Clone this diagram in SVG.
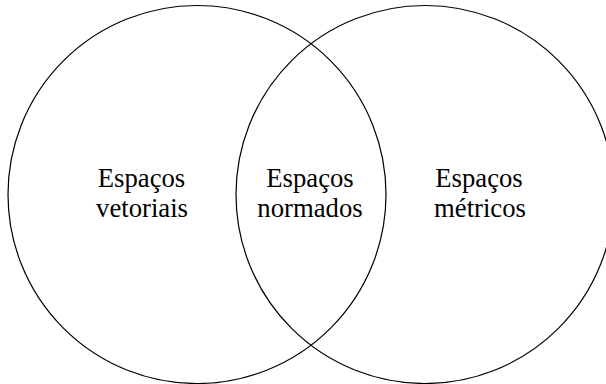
<svg xmlns="http://www.w3.org/2000/svg" width="606" height="384" viewBox="0 0 606 384">
<style>
.c{fill:none;stroke:#000;stroke-width:1.2}
</style>
<rect width="606" height="384" fill="#fff"/>
<g id="connectors"></g>
<g font-family="Liberation Serif, DejaVu Serif, serif" font-size="26.7" text-anchor="middle" fill="#000">
<g id="vetoriais">
<circle class="c" cx="197" cy="194.5" r="189"/>
<text x="141.5" y="187">Espaços</text>
<text x="142" y="217">vetoriais</text>
</g>
<g id="metricos">
<circle class="c" cx="425" cy="194.5" r="189"/>
<text x="479" y="187">Espaços</text>
<text x="480" y="217">métricos</text>
</g>
<g id="normados">
<text x="310" y="187">Espaços</text>
<text x="310" y="217">normados</text>
</g>
</g>
</svg>
